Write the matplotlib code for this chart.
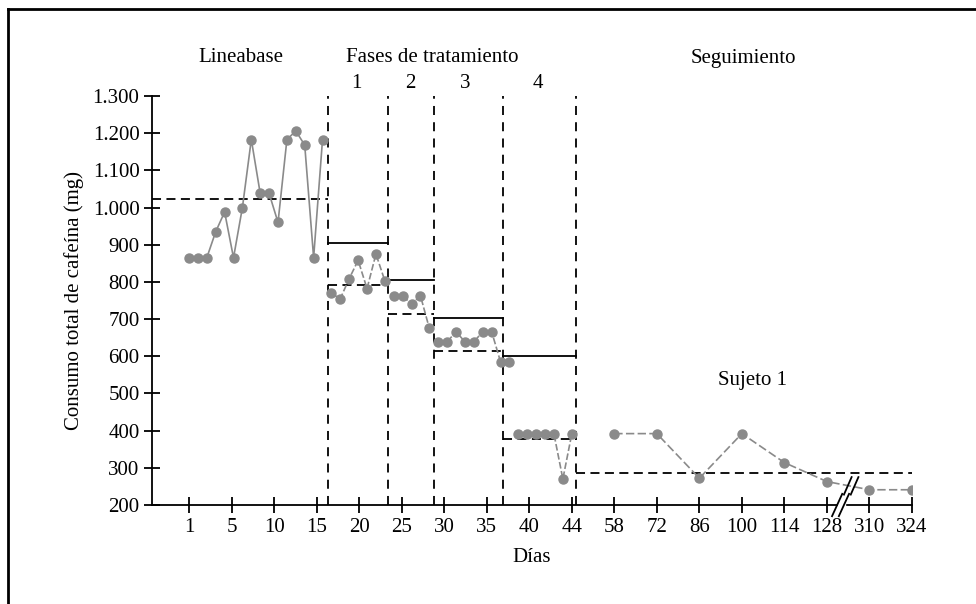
import matplotlib
matplotlib.use('Agg')
import matplotlib.pyplot as plt
from matplotlib.lines import Line2D

plt.rcParams['font.family'] = ['Liberation Serif', 'DejaVu Serif']

# ticks del eje x (posiciones equiespaciadas)
tick_labels = ['1', '5', '10', '15', '20', '25', '30', '35', '40', '44',
               '58', '72', '86', '100', '114', '128', '310', '324']

# consumo por fase (mg)
linea_base = [865, 865, 865, 935, 988, 865, 1000, 1183, 1038, 1038, 960, 1183, 1206, 1168, 865, 1183]
fase1 = [769, 755, 809, 858, 782, 875, 803]
fase2 = [763, 763, 740, 763, 675]
fase3 = [639, 639, 666, 639, 639, 666, 666, 585, 585]
fase4 = [391, 391, 391, 391, 391, 270, 391]
seguimiento = [392, 392, 272, 392, 314, 263, 241, 241]

# medias (discontinua) y criterio (continua) de cada fase
media_base = 1024
medias = [793, 713, 614, 377]
criterios = [905, 805, 702, 602]
media_seguimiento = 287

# limites de fase en dias
limites = [16.6, 23.4, 28.5, 36.3, 44.5]


def pos(d):
    # dia (1..44) -> posicion en el eje
    return (d - 1) / 43 * 9


fig = plt.figure(figsize=(9.76, 6.04), dpi=100)
ax = fig.add_axes([152 / 976, 99 / 604, 760 / 976, 409 / 604])

gris = '#8a8a8a'
fases = [linea_base, fase1, fase2, fase3, fase4]
dia = 1
for i, vals in enumerate(fases):
    dias = list(range(dia, dia + len(vals)))
    dia += len(vals)
    ls = '-' if i == 0 else (0, (4, 1.5))
    ax.plot([pos(d) for d in dias], vals, color=gris, lw=1.2, ls=ls,
            marker='o', ms=6.5, mec=gris, mfc=gris, zorder=3)

x_seg = list(range(10, 18))
ax.plot(x_seg, seguimiento, color=gris, lw=1.2, ls=(0, (5, 2)),
        marker='o', ms=6.5, mec=gris, mfc=gris, zorder=3)

# lineas verticales de cambio de fase
for b in limites:
    ax.plot([pos(b), pos(b)], [200, 1300], color='black', lw=1.3, ls=(0, (5, 4)))

# medias y criterios
ax.plot([-0.87, pos(limites[0])], [media_base, media_base], color='black', lw=1.3, ls=(0, (5, 3)))
for k in range(4):
    x0, x1 = pos(limites[k]), pos(limites[k + 1])
    ax.plot([x0, x1], [medias[k], medias[k]], color='black', lw=1.3, ls=(0, (5, 3)))
    ax.plot([x0, x1], [criterios[k], criterios[k]], color='black', lw=1.3)
ax.plot([pos(limites[4]), 17], [media_seguimiento, media_seguimiento],
        color='black', lw=1.3, ls=(0, (5, 3)))

# ejes
ax.set_xlim(-0.87, 17)
ax.set_ylim(200, 1300)
ax.set_xticks(range(18))
ax.set_xticklabels(tick_labels)
yt = list(range(200, 1301, 100))
ax.set_yticks(yt)
ax.set_yticklabels([f'{v:,}'.replace(',', '.') for v in yt])
ax.tick_params(axis='x', direction='inout', length=12, width=1.3, labelsize=15, pad=3)
ax.tick_params(axis='y', direction='inout', length=12, width=1.3, labelsize=15, pad=3)
for s in ['top', 'right']:
    ax.spines[s].set_visible(False)
for s in ['left', 'bottom']:
    ax.spines[s].set_linewidth(1.3)

# marcas de corte //
ax.fill_between([15.26, 15.42], 190, 210, color='white', zorder=3.5, clip_on=False)
for dx in (-0.06, 0.1):
    ax.plot([15.3 + dx - 0.12, 15.3 + dx + 0.12], [170, 230], color='black', lw=1.3, clip_on=False, zorder=4)
    ax.plot([15.55 + dx - 0.09, 15.55 + dx + 0.09], [228, 275], color='black', lw=1.3, clip_on=False, zorder=4)

ax.set_xlabel('Días', fontsize=15, labelpad=8)
ax.set_ylabel('Consumo total de cafeína (mg)', fontsize=15, labelpad=6)

# rotulos de fase
fig.text(241 / 976, 1 - 58 / 604, 'Lineabase', ha='center', va='center', fontsize=15)
fig.text(432 / 976, 1 - 58 / 604, 'Fases de tratamiento', ha='center', va='center', fontsize=15)
fig.text(743 / 976, 1 - 58 / 604, 'Seguimiento', ha='center', va='center', fontsize=15)
for t, x in zip(['1', '2', '3', '4'], [356, 410, 465, 538]):
    fig.text(x / 976, 1 - 83 / 604, t, ha='center', va='center', fontsize=15)
fig.text(752 / 976, 1 - 381 / 604, 'Sujeto 1', ha='center', va='center', fontsize=15)

# marco
fig.add_artist(Line2D([8 / 976, 1], [1 - 9 / 604, 1 - 9 / 604], color='black', lw=2))
fig.add_artist(Line2D([8 / 976, 8 / 976], [0, 1 - 9 / 604], color='black', lw=2))

fig.savefig('out.png', dpi=100)
